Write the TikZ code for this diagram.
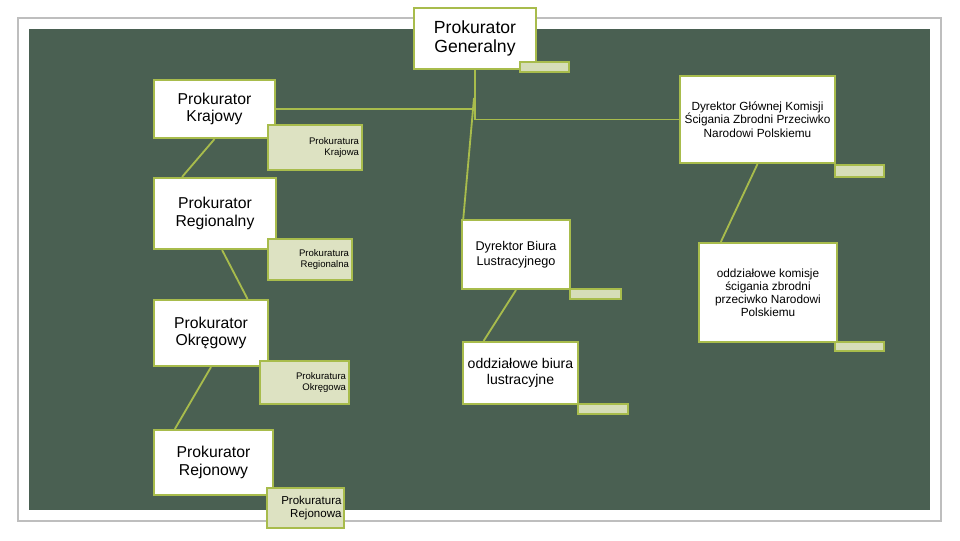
\documentclass[tikz,border=0pt]{standalone}
\usepackage{fontspec}
\setmainfont{Liberation Sans}
\usepackage{tikz}
\usetikzlibrary{positioning,calc}
\usepackage{xcolor}
\definecolor{boardgreen}{RGB}{74,96,82}
\definecolor{limeline}{RGB}{168,188,76}
\definecolor{palelime}{RGB}{221,226,194}
\definecolor{taglime}{RGB}{214,221,184}
\definecolor{framegray}{RGB}{190,190,190}

\begin{document}
\begin{tikzpicture}[x=0.025cm, y=-0.025cm,
    head/.style={rectangle, draw=limeline, line width=1.5pt, fill=white,
        inner sep=0pt, align=center, font=\fontsize{11.2}{12.4}\selectfont},
    unit/.style={rectangle, draw=limeline, line width=1.5pt, fill=palelime,
        inner sep=0pt, align=right, font=\fontsize{6.8}{7.8}\selectfont},
    tag/.style={rectangle, draw=limeline, line width=1.2pt, fill=taglime,
        inner sep=0pt},
    link/.style={draw=limeline, line width=1.3pt}
]
    \useasboundingbox (0,0) rectangle (960,540);
    \draw[framegray, line width=0.8pt] (18,18) rectangle (941,521);
    \fill[boardgreen] (29,29) rectangle (930,510);

    \node[head, minimum width=3.05cm, minimum height=1.525cm,
        font=\fontsize{12.5}{13}\selectfont] (PG) at (475,38.5) {Prokurator\\Generalny};
    \node[head, minimum width=3.025cm, minimum height=1.45cm] (PK) at (214.5,109) {Prokurator\\Krajowy};
    \node[head, minimum width=3.875cm, minimum height=2.175cm,
        font=\fontsize{8.4}{9.8}\selectfont] (DGK) at (757.5,119.5)
        {Dyrektor Głównej Komisji\\Ścigania Zbrodni Przeciwko\\Narodowi Polskiemu};
    \node[head, minimum width=3.05cm, minimum height=1.775cm] (PR) at (215,213.5) {Prokurator\\Regionalny};
    \node[head, minimum width=2.7cm, minimum height=1.725cm,
        font=\fontsize{9}{10.6}\selectfont] (DBL) at (516,254.5) {Dyrektor Biura\\Lustracyjnego};
    \node[head, minimum width=3.45cm, minimum height=2.475cm,
        font=\fontsize{8.4}{9.2}\selectfont] (OKS) at (768,292.5)
        {oddziałowe komisje\\ścigania zbrodni\\przeciwko Narodowi\\Polskiemu};
    \node[head, minimum width=2.85cm, minimum height=1.65cm] (PO) at (211,333) {Prokurator\\Okręgowy};
    \node[head, minimum width=2.875cm, minimum height=1.55cm,
        font=\fontsize{10}{11.2}\selectfont] (OBL) at (520.5,373) {oddziałowe biura\\lustracyjne};
    \node[head, minimum width=2.975cm, minimum height=1.625cm] (PRej) at (213.5,462.5) {Prokurator\\Rejonowy};

    % connectors
    \coordinate (jK) at (472,109);
    \coordinate (jB) at (474,98);
    \draw[link] (PG.south) |- (DGK.west);
    \draw[link] (PK.east) -- (jK);
    \draw[link] (jB) -- (DBL.146);
    \draw[link] (PK.south) -- (PR.132);
    \draw[link] (PR.-79) -- (PO.43);
    \draw[link] (PO.south) -- (PRej.139);
    \draw[link] (DGK.south) -- (OKS.133);
    \draw[link] (DBL.south) -- (OBL.139);

    \node[unit, minimum width=2.35cm, minimum height=1.125cm, text width=2.2cm] (PKa) at (315,147.5) {Prokuratura\\Krajowa};
    \node[unit, minimum width=2.1cm, minimum height=1.025cm, text width=1.95cm] (PRa) at (310,259.5) {Prokuratura\\Regionalna};
    \node[unit, minimum width=2.225cm, minimum height=1.075cm, text width=2.075cm] (POa) at (304.5,382.5) {Prokuratura\\Okręgowa};
    \node[unit, minimum width=1.925cm, minimum height=1.0cm, text width=1.8cm,
        font=\fontsize{8.2}{9}\selectfont] (PReja) at (305.5,508) {Prokuratura\\Rejonowa};

    \node[tag, minimum width=1.225cm, minimum height=0.25cm] (PGt) at (544.5,67) {};
    \node[tag, minimum width=1.225cm, minimum height=0.3cm] (DGKt) at (859.5,171) {};
    \node[tag, minimum width=1.275cm, minimum height=0.25cm] (DBLt) at (595.5,294) {};
    \node[tag, minimum width=1.225cm, minimum height=0.225cm] (OKSt) at (859.5,346.5) {};
    \node[tag, minimum width=1.25cm, minimum height=0.25cm] (OBLt) at (603,409) {};
\end{tikzpicture}
\end{document}
